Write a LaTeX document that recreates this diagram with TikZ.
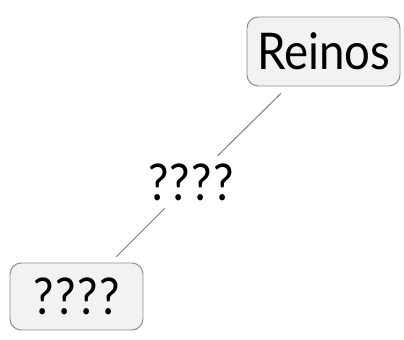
\documentclass[tikz,border=0pt]{standalone}
\usepackage{fontspec}
\setmainfont{Lato}[FakeStretch=0.9]
\usepackage{tikz}
\usetikzlibrary{positioning, calc}

\definecolor{boxfill}{HTML}{F2F2F2}
\definecolor{boxline}{HTML}{8C8C8C}
\definecolor{linkline}{HTML}{7A7A7A}

\begin{document}
\begin{tikzpicture}[
  concept/.style={rectangle, draw=boxline, fill=boxfill, line width=0.7pt, rounded corners=8pt, inner sep=0pt, align=center, font=\fontsize{36}{40}\selectfont},
  linklabel/.style={inner sep=0pt, minimum height=1.3cm, font=\fontsize{36}{40}\selectfont},
  link/.style={draw=linkline, line width=0.7pt}
]
  \useasboundingbox (0,0) rectangle (10.1,8.475);

  \node[concept, minimum width=3.825cm, minimum height=1.725cm] (reinos) at (8.0875,7.1875) {Reinos};
  \node[concept, minimum width=3.325cm, minimum height=1.675cm] (pregunta) at (1.9125,1.0625) {?\kern1pt?\kern1pt?\kern1pt?};
  \node[linklabel] (enlace) at (4.775,3.925) {?\kern1pt?\kern1pt?\kern1pt?};

  \draw[link, shorten <=0.25cm] (reinos) -- (enlace);
  \draw[link, shorten >=0.2cm] (enlace) -- (pregunta);
\end{tikzpicture}
\end{document}
